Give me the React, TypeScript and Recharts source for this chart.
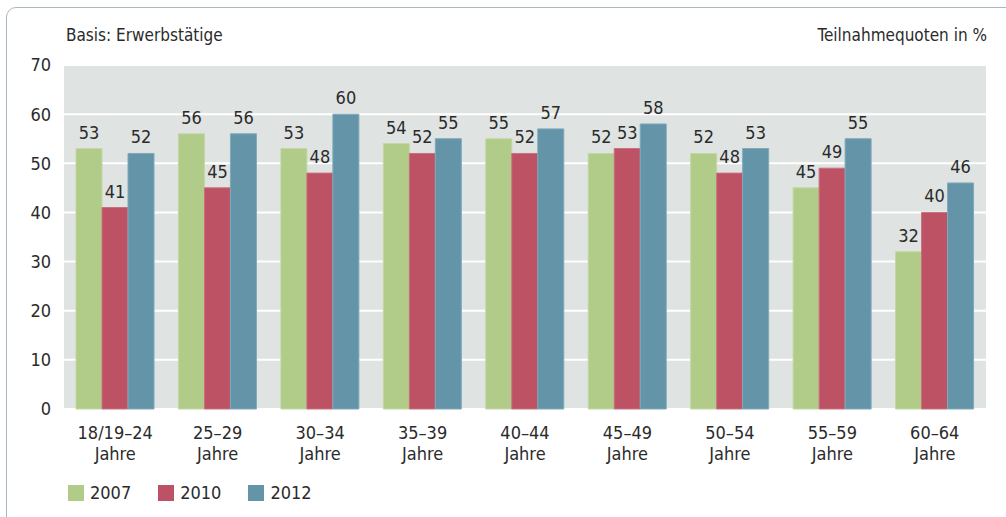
import { Bar, BarChart, CartesianGrid, LabelList, XAxis, YAxis } from "recharts";

const ageGroups = [
  "18/19–24 Jahre",
  "25–29 Jahre",
  "30–34 Jahre",
  "35–39 Jahre",
  "40–44 Jahre",
  "45–49 Jahre",
  "50–54 Jahre",
  "55–59 Jahre",
  "60–64 Jahre",
];

const values2007 = [53, 56, 53, 54, 55, 52, 52, 45, 32];
const values2010 = [41, 45, 48, 52, 52, 53, 48, 49, 40];
const values2012 = [52, 56, 60, 55, 57, 58, 53, 55, 46];

const yTicks = [0, 10, 20, 30, 40, 50, 60, 70];

const series = [
  { key: "y2007", name: "2007", color: "#b1cb89", edge: "#c3d8a3" },
  { key: "y2010", name: "2010", color: "#bc5263", edge: "#c9707e" },
  { key: "y2012", name: "2012", color: "#6394a8", edge: "#7eaabb" },
];

const data = ageGroups.map((group, i) => ({
  group,
  y2007: values2007[i],
  y2010: values2010[i],
  y2012: values2012[i],
}));

const FONT = '"DejaVu Sans Condensed", "Open Sans", sans-serif';
const TEXT = "#2b2b2b";

const AgeTick = ({ x, y, payload }: any) => {
  const [range, unit] = String(payload.value).split(" ");
  return (
    <g transform={`translate(${x},${y})`}>
      <text textAnchor="middle" fill={TEXT} fontSize={18} fontFamily={FONT}>
        <tspan x={0} dy={22}>{range}</tspan>
        <tspan x={0} dy={21}>{unit}</tspan>
      </text>
    </g>
  );
};

const App = () => {
  return (
    <div
      style={{
        position: "fixed",
        left: 0,
        top: 0,
        width: 1006,
        height: 517,
        background: "#fff",
        fontFamily: FONT,
        color: TEXT,
        overflow: "hidden",
      }}
    >
      <div
        style={{
          position: "absolute",
          left: 6,
          top: 7,
          width: 1100,
          height: 600,
          border: "1.5px solid #a9b7c1",
          borderRadius: 10,
          boxSizing: "border-box",
        }}
      />
      <div style={{ position: "absolute", left: 66, top: 25, fontSize: 17 }}>
        Basis: Erwerbstätige
      </div>
      <div style={{ position: "absolute", right: 19, top: 25, fontSize: 17 }}>
        Teilnahmequoten in %
      </div>

      <BarChart
        width={1006}
        height={517}
        data={data}
        margin={{ top: 65, right: 20, left: 0, bottom: 48 }}
        barGap={0}
        barSize={26}
        style={{ position: "absolute", left: 0, top: 0 }}
      >
        <CartesianGrid
          vertical={false}
          stroke="#ffffff"
          strokeWidth={2}
          fill="#dfe3e2"
          fillOpacity={1}
        />
        <XAxis
          dataKey="group"
          axisLine={false}
          tickLine={false}
          interval={0}
          height={60}
          tick={<AgeTick />}
        />
        <YAxis
          domain={[0, 70]}
          ticks={yTicks}
          width={64}
          axisLine={false}
          tickLine={false}
          tick={{ fill: TEXT, fontSize: 18, fontFamily: FONT }}
          tickMargin={7}
        />
        {series.map((s) => (
          <Bar
            key={s.key}
            dataKey={s.key}
            name={s.name}
            fill={s.color}
            stroke={s.edge}
            strokeWidth={1}
            isAnimationActive={false}
          >
            <LabelList
              dataKey={s.key}
              position="top"
              offset={10}
              fill={TEXT}
              fontSize={18}
              fontFamily={FONT}
            />
          </Bar>
        ))}
      </BarChart>

      <div
        style={{
          position: "absolute",
          left: 68,
          top: 482,
          display: "flex",
          gap: 27,
          fontSize: 18,
        }}
      >
        {series.map((s) => (
          <div key={s.key} style={{ display: "flex", alignItems: "center", gap: 6 }}>
            <span style={{ width: 16, height: 16, background: s.color, display: "inline-block" }} />
            <span>{s.name}</span>
          </div>
        ))}
      </div>
    </div>
  );
};

export default App;
